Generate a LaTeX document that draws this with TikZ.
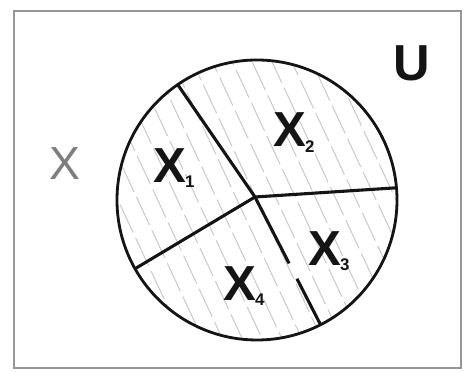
\documentclass[tikz,border=0pt]{standalone}
\usepackage{fontspec}
\setmainfont{Liberation Sans}
\usetikzlibrary{calc}
\definecolor{frame}{RGB}{150,150,150}
\definecolor{ink}{RGB}{20,20,20}
\definecolor{hatchgray}{RGB}{200,200,200}
\tikzset{
  border/.style={draw=frame,line width=1.8pt},
  rim/.style={draw=ink,line width=2pt},
  divide/.style={draw=ink,line width=2.2pt},
  hatch/.style={draw=hatchgray,line width=0.7pt,dash pattern=on 22pt off 4pt},
  part/.style={font=\fontsize{35}{35}\selectfont\bfseries,text=ink,inner sep=0pt},
  idx/.style={font=\fontsize{12}{12}\selectfont\bfseries,text=ink,inner sep=0pt},
}

\begin{document}
\begin{tikzpicture}
  \useasboundingbox (0,0) rectangle (11.6,9.3);
  \draw[border] (0.35,0.1) rectangle (11.53,9.03);
  \coordinate (c) at (6.425,4.3);
  \coordinate (o) at (6.375,4.375);
  % hatching inside the circle
  \begin{scope}
    \clip (c) circle (3.5);
    \begin{scope}[shift={(c)},rotate=25]
      \foreach \i in {-8,...,8}
        \draw[hatch] (\i*0.45,-4) -- (\i*0.45,4);
    \end{scope}
  \end{scope}
  \draw[rim] (c) circle (3.5);
  \coordinate (p1) at ($(c)+(124.5:3.5)$);
  \coordinate (p2) at ($(c)+(5:3.5)$);
  \coordinate (p3) at ($(c)+(209.4:3.5)$);
  \coordinate (p4) at ($(c)+(297:3.5)$);
  \draw[divide] (o) -- (p1) (o) -- (p2) (o) -- (p3);
  \draw[divide] (o) -- ($(o)!0.52!(p4)$) ($(o)!0.64!(p4)$) -- (p4);
  % labels
  \node[part] (x1) at (4.25,5.17) {X};
  \node[idx] (i1) at ($(x1.south east)+(0.08,0.02)$) {1};
  \node[part] (x2) at (7.25,6.05) {X};
  \node[idx] (i2) at ($(x2.south east)+(0.08,0.02)$) {2};
  \node[part] (x3) at (8.12,3.08) {X};
  \node[idx] (i3) at ($(x3.south east)+(0.08,0.02)$) {3};
  \node[part] (x4) at (6.0,2.22) {X};
  \node[idx] (i4) at ($(x4.south east)+(0.08,0.02)$) {4};
  \node[font=\fontsize{33}{33}\selectfont,text=ink!55,inner sep=0pt] (set) at (1.62,5.22) {X};
  \node[part,font=\fontsize{36}{36}\selectfont\bfseries] (univ) at (10.3,7.72) {U};
\end{tikzpicture}
\end{document}
